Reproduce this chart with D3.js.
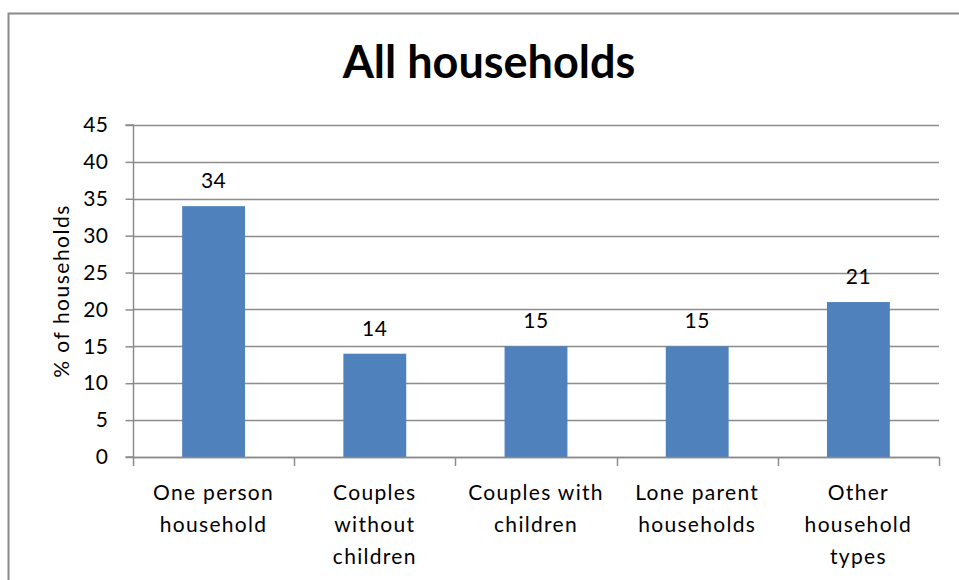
<!DOCTYPE html>
<html>
<head>
<meta charset="utf-8">
<script src="https://cdn.jsdelivr.net/npm/d3@7"></script>
<style>
  html, body { margin: 0; padding: 0; background: #fff; }
  svg { display: block; }
  text { font-family: Lato, "Open Sans", sans-serif; fill: #000; }
</style>
</head>
<body>
<svg id="chart" width="959" height="580"></svg>
<script>
// Household composition, share of all households (%)
const categories = [
  ["One person", "household"],
  ["Couples", "without", "children"],
  ["Couples with", "children"],
  ["Lone parent", "households"],
  ["Other", "household", "types"]
];
const values = [34, 14, 15, 15, 21];
const yTicks = [0, 5, 10, 15, 20, 25, 30, 35, 40, 45];
const titleText = "All households";
const yAxisTitle = "% of households";

const svg = d3.select("#chart");
const W = 959, H = 580;
const plot = { left: 133, right: 939, top: 125, bottom: 457 };

// chart frame
svg.append("path")
  .attr("d", `M${W + 5},13.5 H8.5 V${H + 5}`)
  .attr("fill", "none")
  .attr("stroke", "#8a8a8a")
  .attr("stroke-width", 2);

const x = d3.scaleBand()
  .domain(d3.range(values.length))
  .range([plot.left, plot.right])
  .paddingInner(0.61)
  .paddingOuter(0.305);

const y = d3.scaleLinear()
  .domain([0, 45])
  .range([plot.bottom, plot.top]);

// horizontal gridlines
svg.append("g")
  .selectAll("line")
  .data(yTicks)
  .join("line")
  .attr("x1", plot.left)
  .attr("x2", plot.right)
  .attr("y1", d => Math.round(y(d)) + 0.5)
  .attr("y2", d => Math.round(y(d)) + 0.5)
  .attr("stroke", "#8c8c8c")
  .attr("stroke-width", 1.5);

// bars
svg.append("g")
  .selectAll("rect")
  .data(values)
  .join("rect")
  .attr("x", (d, i) => x(i))
  .attr("width", x.bandwidth())
  .attr("y", d => y(d))
  .attr("height", d => y(0) - y(d))
  .attr("fill", "#4f81bd");

// value labels
svg.append("g")
  .selectAll("text")
  .data(values)
  .join("text")
  .attr("x", (d, i) => x(i) + x.bandwidth() / 2)
  .attr("y", d => y(d) - 18)
  .attr("text-anchor", "middle")
  .attr("font-size", 21)
  .attr("letter-spacing", 0.5)
  .text(d => d3.format(".0f")(d));

// y axis
const yAxis = d3.axisLeft(y)
  .tickValues(yTicks)
  .tickSize(8)
  .tickPadding(17)
  .tickFormat(d3.format("d"));
const gy = svg.append("g")
  .attr("transform", `translate(${plot.left + 0.5},0)`)
  .call(yAxis);
gy.select(".domain").attr("stroke", "#8c8c8c").attr("stroke-width", 1.5)
  .attr("d", `M-8,${y(45)}H0V${y(0)}H-8`);
gy.selectAll(".tick line").attr("stroke", "#8c8c8c").attr("stroke-width", 1.5);
gy.selectAll(".tick text")
  .attr("font-size", 21)
  .attr("font-family", "Lato, sans-serif")
  .attr("letter-spacing", 0.5)
  .attr("fill", "#000");

// x axis: ticks at category boundaries
const boundaries = d3.range(values.length + 1).map(i => plot.left + i * x.step());
const gx = svg.append("g");
gx.append("line")
  .attr("x1", plot.left).attr("x2", plot.right)
  .attr("y1", y(0) + 0.5).attr("y2", y(0) + 0.5)
  .attr("stroke", "#8c8c8c").attr("stroke-width", 1.5);
gx.selectAll("line.tick")
  .data(boundaries)
  .join("line")
  .attr("class", "tick")
  .attr("x1", d => Math.round(d) + 0.5).attr("x2", d => Math.round(d) + 0.5)
  .attr("y1", y(0)).attr("y2", y(0) + 9)
  .attr("stroke", "#8c8c8c").attr("stroke-width", 1.5);

// category labels
const lab = svg.append("g")
  .selectAll("text")
  .data(categories)
  .join("text")
  .attr("x", (d, i) => x(i) + x.bandwidth() / 2)
  .attr("y", 500)
  .attr("text-anchor", "middle")
  .attr("font-size", 21)
  .attr("letter-spacing", 1.3);
lab.selectAll("tspan")
  .data(d => d)
  .join("tspan")
  .attr("x", function () { return this.parentNode.getAttribute("x"); })
  .attr("dy", (d, i) => i === 0 ? 0 : 32)
  .text(d => d);

// y axis title
svg.append("text")
  .attr("transform", `translate(69,${(plot.top + plot.bottom) / 2}) rotate(-90)`)
  .attr("text-anchor", "middle")
  .attr("font-size", 21)
  .attr("letter-spacing", 1.5)
  .text(yAxisTitle);

// chart title
svg.append("text")
  .attr("x", 489)
  .attr("y", 78)
  .attr("text-anchor", "middle")
  .attr("font-size", 45)
  .attr("font-weight", "bold")
  .text(titleText);
</script>
</body>
</html>
